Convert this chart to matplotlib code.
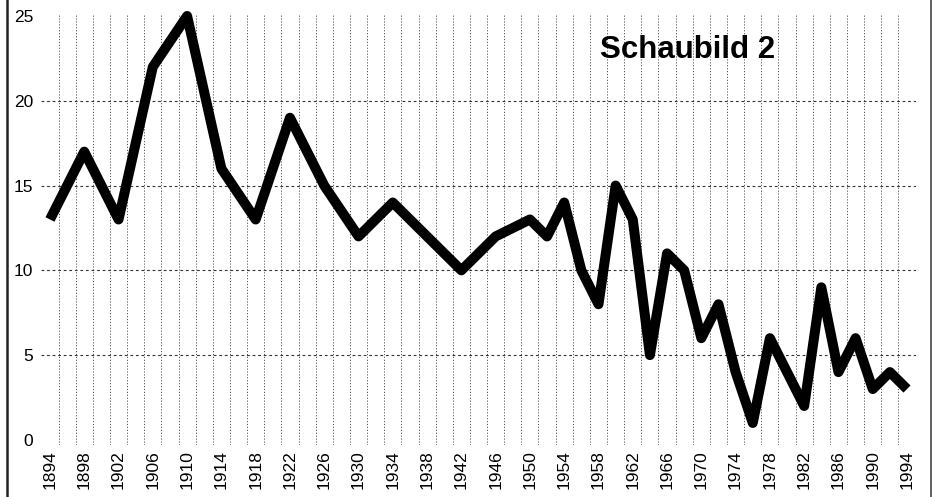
import numpy as np
import matplotlib.pyplot as plt
from matplotlib.lines import Line2D

# values
years = [1894, 1898, 1902, 1906, 1910, 1914, 1918, 1922, 1926, 1930, 1934, 1938,
         1942, 1946, 1950, 1952, 1954, 1956, 1958, 1960, 1962, 1964, 1966, 1968,
         1970, 1972, 1974, 1976, 1978, 1980, 1982, 1984, 1986, 1988, 1990, 1992, 1994]
values = [13, 17, 13, 22, 25, 16, 13, 19, 15, 12, 14, 12,
          10, 12, 13, 12, 14, 10, 8, 15, 13, 5, 11, 10,
          6, 8, 4, 1, 6, 4, 2, 9, 4, 6, 3, 4, 3]
xtick_years = list(range(1894, 1995, 4))
ytick_vals = [0, 5, 10, 15, 20, 25]
hgrid_vals = [5, 10, 15, 20]
vgrid_years = list(range(1895, 1994, 2))

font = ['Liberation Sans', 'DejaVu Sans']

W, H = 934, 497
fig = plt.figure(figsize=(W / 100, H / 100), dpi=100)
fig.patch.set_facecolor('white')

# axes placed so that 1893..1995 spans the plot, y -0.3..25.1
left, right = 41.4, 915.6
bottom, top = 445, 14.3
ax = fig.add_axes([left / W, 1 - bottom / H, (right - left) / W, (bottom - top) / H])
ax.set_xlim(1893, 1995)
ax.set_ylim(-0.3, 25.1)

for s in ax.spines.values():
    s.set_visible(False)

# grid
for yr in vgrid_years:
    ax.axvline(yr, color='#555555', lw=0.7, ls=(0, (1.2, 1.8)), zorder=1)
for v in hgrid_vals:
    ax.axhline(v, color='#333333', lw=0.8, ls=(0, (2.5, 2.5)), zorder=1)

ax.plot(years, values, color='black', lw=7.2, solid_joinstyle='round',
        solid_capstyle='butt', zorder=3, clip_on=False)

ax.set_xticks(xtick_years)
ax.set_xticklabels([str(y) for y in xtick_years], rotation=90,
                   fontsize=12.5, family=font)
ax.set_yticks(ytick_vals)
ax.set_yticklabels([str(v) for v in ytick_vals], fontsize=12.5, family=font)
ax.tick_params(axis='x', length=0, pad=4)
ax.tick_params(axis='y', length=0, pad=6)

fig.text(600 / W, 1 - 58 / H, 'Schaubild 2', fontsize=22.5, fontweight='bold',
         family=font, ha='left', va='baseline')

# frame lines of the scanned figure
fig.add_artist(Line2D([7 / W, 7 / W], [0, 1], color='#222222', lw=1.8))
fig.add_artist(Line2D([931 / W, 931 / W], [0, 1], color='#444444', lw=1.2))

fig.savefig('out.png', dpi=100, facecolor='white')
